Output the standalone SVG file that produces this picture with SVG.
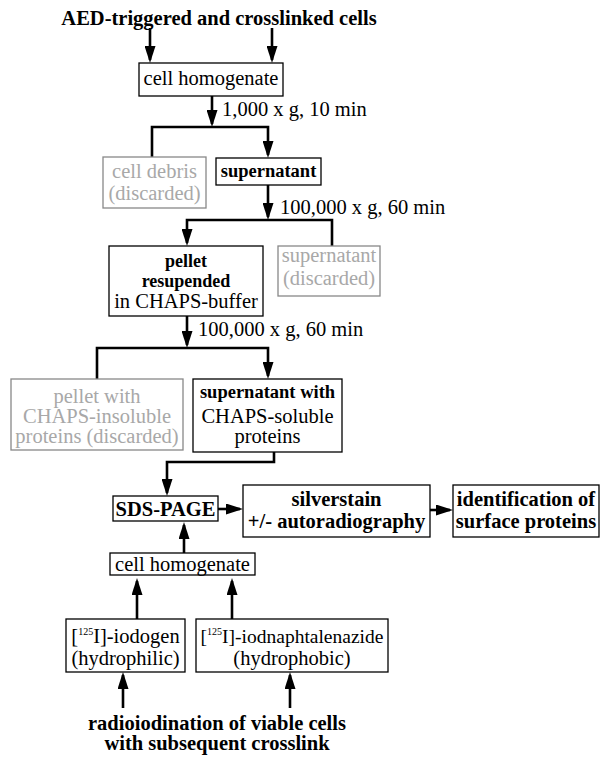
<svg xmlns="http://www.w3.org/2000/svg" width="601" height="757" viewBox="0 0 601 757">
<style>
.box{fill:#fff;stroke:#000;stroke-width:1.3}
.gbox{fill:#fff;stroke:#888;stroke-width:1.3}
text{font-family:"Liberation Serif","Times New Roman",serif;font-size:20.5px;fill:#000}
.b{font-weight:bold}
.g{fill:#a8a8a8}
.c{text-anchor:middle}
.ln{fill:none;stroke:#000;stroke-width:2.6}
.ar{marker-end:url(#ah)}
</style>
<defs>
<marker id="ah" markerUnits="userSpaceOnUse" markerWidth="17" markerHeight="11" refX="14" refY="5.5" orient="auto">
<path d="M0,0 L17,5.5 L0,11 z" fill="#000"/>
</marker>
</defs>
<rect width="601" height="757" fill="#fff"/>
<g id="connectors">
<path class="ln ar" d="M150,28 V60"/>
<path class="ln ar" d="M272,28 V60"/>
<path class="ln ar" d="M212,96 V124"/>
<path class="ln ar" d="M152,157 V127 H268 V155"/>
<path class="ln ar" d="M268,185 V217"/>
<path class="ln ar" d="M332,246 V220 H187 V243"/>
<path class="ln ar" d="M187,316 V345"/>
<path class="ln ar" d="M97,379 V348 H268 V376"/>
<path class="ln ar" d="M274,452 V462 H167 V493"/>
<path class="ln ar" d="M218,509 H240"/>
<path class="ln ar" d="M430,510 H450"/>
<path class="ln ar" d="M184,553 V525"/>
<path class="ln ar" d="M137,619 V581"/>
<path class="ln ar" d="M232,619 V581"/>
<path class="ln ar" d="M123,708 V675"/>
<path class="ln ar" d="M290,708 V675"/>
<text x="222" y="116">1,000 x g, 10 min</text>
<text x="280" y="214">100,000 x g, 60 min</text>
<text x="198" y="336">100,000 x g, 60 min</text>
</g>
<g id="title"><text class="b c" x="219" y="25">AED-triggered and crosslinked cells</text></g>
<g id="homogenate1"><rect class="box" x="139" y="63" width="144" height="33"/><text class="c" x="211" y="85">cell homogenate</text></g>
<g id="debris"><rect class="gbox" x="103" y="157" width="103" height="51"/><text class="c g" x="154.5" y="178">cell debris</text><text class="c g" x="154.5" y="200">(discarded)</text></g>
<g id="supernatant1"><rect class="box" x="216" y="158" width="105" height="27"/><text class="c b" x="268.5" y="177" style="font-size:18.5px">supernatant</text></g>
<g id="pellet"><rect class="box" x="109" y="246" width="154" height="70"/><text class="c b" x="186" y="267" style="font-size:18px">pellet</text><text class="c b" x="186" y="287" style="font-size:18px">resupended</text><text class="c" x="186" y="308">in CHAPS-buffer</text></g>
<g id="supernatant2"><rect class="gbox" x="278" y="246" width="102" height="50"/><text class="c g" x="329" y="262">supernatant</text><text class="c g" x="329" y="285">(discarded)</text></g>
<g id="insoluble"><rect class="gbox" x="11" y="379" width="172" height="71"/><text class="c g" x="97" y="403">pellet with</text><text class="c g" x="97" y="423">CHAPS-insoluble</text><text class="c g" x="97" y="443">proteins (discarded)</text></g>
<g id="soluble"><rect class="box" x="193" y="379" width="149" height="73"/><text class="c b" x="267.5" y="398" style="font-size:18.5px">supernatant with</text><text class="c" x="267.5" y="423">CHAPS-soluble</text><text class="c" x="267.5" y="443">proteins</text></g>
<g id="sdspage"><rect class="box" x="113" y="496" width="105" height="25"/><text class="c b" x="165.5" y="516">SDS-PAGE</text></g>
<g id="silverstain"><rect class="box" x="243" y="485" width="187" height="52"/><text class="c b" x="336.5" y="506">silverstain</text><text class="c b" x="336.5" y="528">+/- autoradiography</text></g>
<g id="identification"><rect class="box" x="453" y="485" width="146" height="52"/><text class="c b" x="526" y="506">identification of</text><text class="c b" x="526" y="528">surface proteins</text></g>
<g id="homogenate2"><rect class="box" x="110" y="553" width="145" height="22"/><text class="c" x="182.5" y="571">cell homogenate</text></g>
<g id="iodogen"><rect class="box" x="66" y="619" width="119" height="53"/><text class="c" x="125.5" y="643">[<tspan font-size="10" dy="-8">125</tspan><tspan dy="8">I]-iodogen</tspan></text><text class="c" x="125.5" y="665">(hydrophilic)</text></g>
<g id="iodnaphtalenazide"><rect class="box" x="196" y="619" width="192" height="53"/><text class="c" x="292" y="643" style="font-size:19.5px">[<tspan font-size="10" dy="-8">125</tspan><tspan dy="8">I]-iodnaphtalenazide</tspan></text><text class="c" x="292" y="665">(hydrophobic)</text></g>
<g id="radioiodination"><text class="c b" x="217" y="730">radioiodination of viable cells</text><text class="c b" x="217" y="750">with subsequent crosslink</text></g>
</svg>
